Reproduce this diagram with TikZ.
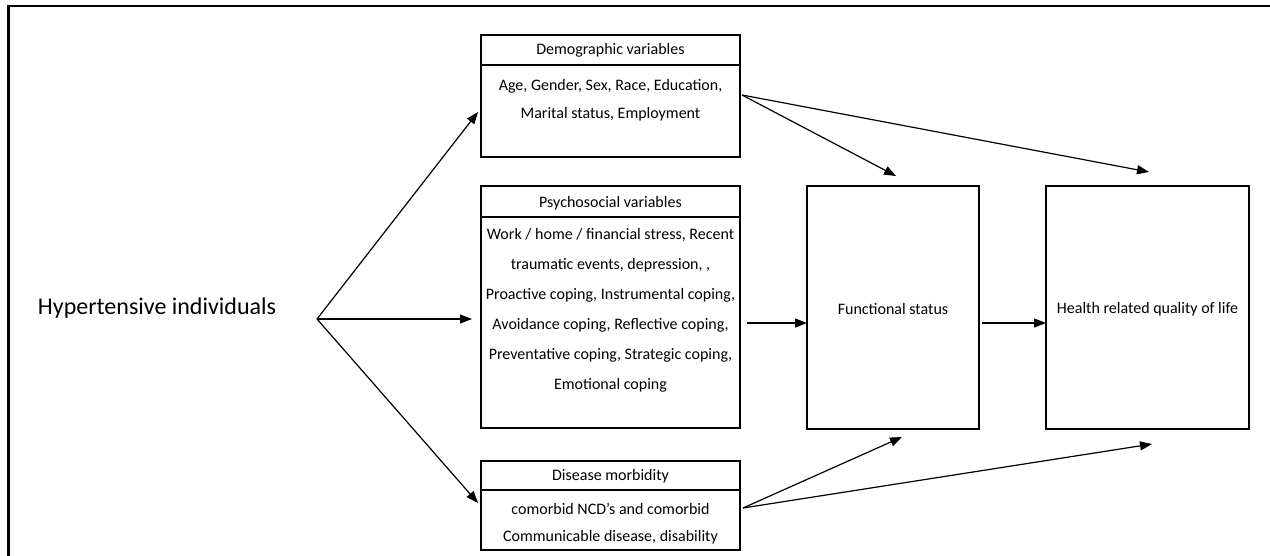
\documentclass[tikz,border=0pt]{standalone}
\usepackage{fontspec}
\setmainfont{Carlito}
\usetikzlibrary{arrows.meta}
\begin{document}
\begin{tikzpicture}[x=1pt,y=-1pt,
  box/.style={draw, line width=1.2pt, inner sep=0pt, outer sep=0pt, anchor=north west},
  txt/.style={font=\fontsize{16}{28}\selectfont, align=center, inner sep=0pt},
  link/.style={line width=1.2pt, -{Triangle[length=12pt,width=9pt]}},
  rule/.style={line width=1.2pt}]
\useasboundingbox (0,0) rectangle (1270,556);
% outer frame (only top and left edges lie on the page)
\draw[line width=2.5pt] (8.5,570) -- (8.5,6) -- (1280,6);

% left label and split point
\node[font=\fontsize{24}{28}\selectfont, inner sep=0pt] (hyp) at (157,308) {Hypertensive individuals};
\coordinate (split) at (317,319);

% demographic box
\node[box, minimum width=259pt, minimum height=122pt] (demo) at (481,35) {};
\draw[rule] (demo.west |- 0,65) -- (demo.east |- 0,65);
\node[txt] (demohead) at (610.5,50) {Demographic variables};
\node[txt] (demobody) at (610.5,100) {Age, Gender, Sex, Race, Education,\\Marital status, Employment};

% psychosocial box
\node[box, minimum width=259pt, minimum height=242pt] (psy) at (481,186) {};
\draw[rule] (psy.west |- 0,217) -- (psy.east |- 0,217);
\node[txt] (psyhead) at (610.5,203) {Psychosocial variables};
\node[txt, font=\fontsize{16}{30}\selectfont] (psybody) at (610.5,310) {Work / home / financial stress, Recent\\traumatic events, depression, ,\\Proactive coping, Instrumental coping,\\Avoidance coping, Reflective coping,\\Preventative coping, Strategic coping,\\Emotional coping};

% disease box
\node[box, minimum width=259pt, minimum height=89pt] (dis) at (481,461) {};
\draw[line width=2.2pt] (dis.west |- 0,490) -- (dis.east |- 0,490);
\node[txt] (dishead) at (610.5,476) {Disease morbidity};
\node[txt, font=\fontsize{16}{27}\selectfont] (disbody) at (610.5,523.5) {comorbid NCD's and comorbid\\Communicable disease, disability};

% outcome boxes
\node[box, minimum width=172pt, minimum height=243pt] (func) at (807,186) {};
\node[txt] (functxt) at (893,309) {Functional status};
\node[box, minimum width=203pt, minimum height=243pt] (hrq) at (1046,186) {};
\node[txt] (hrqtxt) at (1147.5,309) {Health related quality of life};

% connector end points
\coordinate (tDemo) at (478,112);
\coordinate (tPsy) at (472,319);
\coordinate (tDis) at (478,503);
\coordinate (sDemo) at (742,95);
\coordinate (sDis) at (743,508);
\coordinate (sPsy) at (747,323);
\coordinate (sFunc) at (982,323);
\coordinate (fTop) at (896,176);
\coordinate (hTop) at (1149,172);
\coordinate (fBot) at (902,437);
\coordinate (hBot) at (1152,444);

% connectors
\draw[link] (split) -- (tDemo);
\draw[link] (split) -- (tPsy);
\draw[link] (split) -- (tDis);
\draw[link] (sDemo) -- (fTop);
\draw[link] (sDemo) -- (hTop);
\draw[link] (sDis) -- (fBot);
\draw[link] (sDis) -- (hBot);
\draw[link] (sPsy) -- (func.west |- sPsy);
\draw[link] (sFunc) -- (hrq.west |- sFunc);
\end{tikzpicture}
\end{document}
